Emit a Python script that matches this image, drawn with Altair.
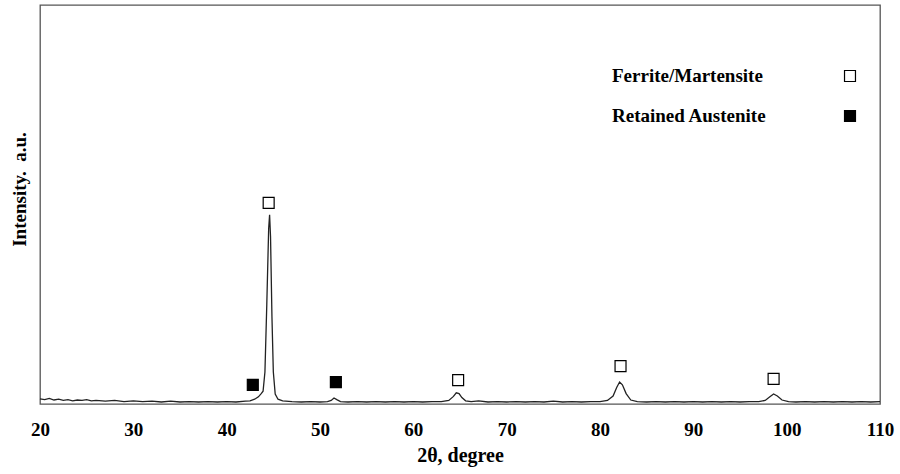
import altair as alt
import pandas as pd

# XRD pattern (2theta, intensity in arbitrary units)
two_theta = [20.0, 20.5, 21.0, 21.5, 22.0, 22.5, 23.0, 23.5, 24.0, 24.5, 25.0, 25.5, 26.0, 27.0, 28.0,
             29.0, 30.0, 31.0, 32.0, 33.0, 34.0, 35.0, 36.0, 37.0, 38.0, 39.0, 40.0, 41.0, 42.0, 42.5,
             43.0, 43.4, 43.7, 43.9, 44.1, 44.3, 44.5, 44.6, 44.7, 44.85, 45.0, 45.2, 45.5, 46.0, 47.0,
             48.0, 49.0, 50.0, 50.8, 51.2, 51.5, 51.8, 52.2, 53.0, 54.0, 55.0, 56.0, 57.0, 58.0, 59.0,
             60.0, 61.0, 62.0, 63.0, 63.8, 64.3, 64.6, 64.9, 65.2, 65.6, 66.2, 67.0, 68.0, 69.0, 70.0,
             71.0, 72.0, 73.0, 74.0, 75.0, 76.0, 77.0, 78.0, 79.0, 80.0, 80.8, 81.4, 81.8, 82.1, 82.4,
             82.8, 83.3, 84.0, 85.0, 86.0, 87.0, 88.0, 89.0, 90.0, 91.0, 92.0, 93.0, 94.0, 95.0, 96.0,
             97.0, 97.7, 98.2, 98.6, 99.0, 99.5, 100.2, 101.0, 102.0, 103.0, 104.0, 105.0, 106.0, 107.0,
             108.0, 109.0, 110.0]
intensity = [1.3, 1.1, 1.4, 1.0, 1.2, 0.9, 1.1, 0.8, 1.0, 0.9, 1.1, 0.8, 0.9, 0.7, 0.9,
             0.6, 0.8, 0.6, 0.7, 0.5, 0.7, 0.5, 0.6, 0.5, 0.6, 0.5, 0.6, 0.5, 0.7, 0.8,
             1.2, 1.8, 2.6, 3.2, 8.0, 25.0, 44.0, 47.4, 42.0, 22.0, 8.0, 2.5, 1.2, 0.8, 0.6,
             0.5, 0.6, 0.5, 0.6, 0.9, 1.5, 1.1, 0.6, 0.5, 0.6, 0.5, 0.6, 0.5, 0.6, 0.5,
             0.6, 0.5, 0.6, 0.6, 0.9, 1.9, 2.8, 2.6, 1.6, 0.8, 0.6, 0.8, 0.5, 0.6, 0.5,
             0.6, 0.5, 0.6, 0.5, 0.7, 0.5, 0.6, 0.5, 0.6, 0.6, 0.9, 2.0, 4.2, 5.5, 4.8,
             2.6, 1.0, 0.6, 0.5, 0.6, 0.5, 0.6, 0.5, 0.6, 0.5, 0.6, 0.5, 0.6, 0.5, 0.6,
             0.6, 0.9, 1.8, 2.5, 2.0, 1.0, 0.6, 0.5, 0.6, 0.5, 0.6, 0.5, 0.6, 0.5,
             0.6, 0.5, 0.6]

# Phase markers
marker_theta = [44.5, 64.8, 82.2, 98.6, 42.8, 51.7]
marker_y = [50.4, 6.0, 9.5, 6.3, 4.8, 5.5]
marker_phase = ["Ferrite/Martensite"] * 4 + ["Retained Austenite"] * 2

phases = ["Ferrite/Martensite", "Retained Austenite"]
phase_fill = ["white", "black"]

x_ticks = [20, 30, 40, 50, 60, 70, 80, 90, 100, 110]

FONT = "Liberation Serif"

df = pd.DataFrame({"t": two_theta, "i": intensity})
dm = pd.DataFrame({"t": marker_theta, "i": marker_y, "phase": marker_phase})
dl = pd.DataFrame({"phase": phases})

xscale = alt.Scale(domain=[20, 110], nice=False, zero=False)
yscale = alt.Scale(domain=[0, 100], nice=False)
fill_scale = alt.Scale(domain=phases, range=phase_fill)

line = alt.Chart(df).mark_line(color="#222222", strokeWidth=1.3).encode(
    x=alt.X("t:Q", scale=xscale,
            axis=alt.Axis(values=x_ticks, title="2θ, degree", ticks=False, domain=False,
                          grid=False, labelFlush=False, labelFont=FONT, labelFontSize=19,
                          labelFontWeight="bold", labelColor="black", labelPadding=16,
                          titleFont=FONT, titleFontSize=20, titleFontWeight="bold",
                          titleColor="black", titlePadding=6)),
    y=alt.Y("i:Q", scale=yscale,
            axis=alt.Axis(labels=False, ticks=False, domain=False, grid=False,
                          title="Intensity.\u00a0 a.u.", titleFont=FONT, titleFontSize=19,
                          titleFontWeight="bold", titleColor="black",
                          titleX=-21, titleY=184, titleBaseline="middle", titleAngle=270)),
)

markers = alt.Chart(dm).mark_point(shape="square", size=120, stroke="black",
                                   strokeWidth=1.2, opacity=1, filled=True).encode(
    x=alt.X("t:Q", scale=xscale),
    y=alt.Y("i:Q", scale=yscale),
    fill=alt.Fill("phase:N", scale=fill_scale, legend=None),
)

legend_layers = []
for idx, ypix in enumerate([71, 111]):
    base = alt.Chart(dl).transform_filter(alt.datum.phase == phases[idx])
    legend_layers.append(
        base.mark_text(font=FONT, fontSize=19, fontWeight="bold", color="black",
                       align="left", baseline="middle").encode(
            x=alt.value(572), y=alt.value(ypix), text="phase:N")
    )
    legend_layers.append(
        base.mark_point(shape="square", size=120, stroke="black", strokeWidth=1.2,
                        opacity=1, filled=True).encode(
            x=alt.value(810), y=alt.value(ypix),
            fill=alt.Fill("phase:N", scale=fill_scale, legend=None))
    )

chart = alt.layer(line, markers, *legend_layers).properties(
    width=840, height=399,
    autosize=alt.AutoSizeParams(type="none"),
    padding={"left": 40, "top": 5, "right": 20, "bottom": 70},
    background="white",
).configure_view(stroke="#555555", strokeWidth=1.3)

chart.save("out.html", embed_options={"renderer": "svg", "actions": False})
